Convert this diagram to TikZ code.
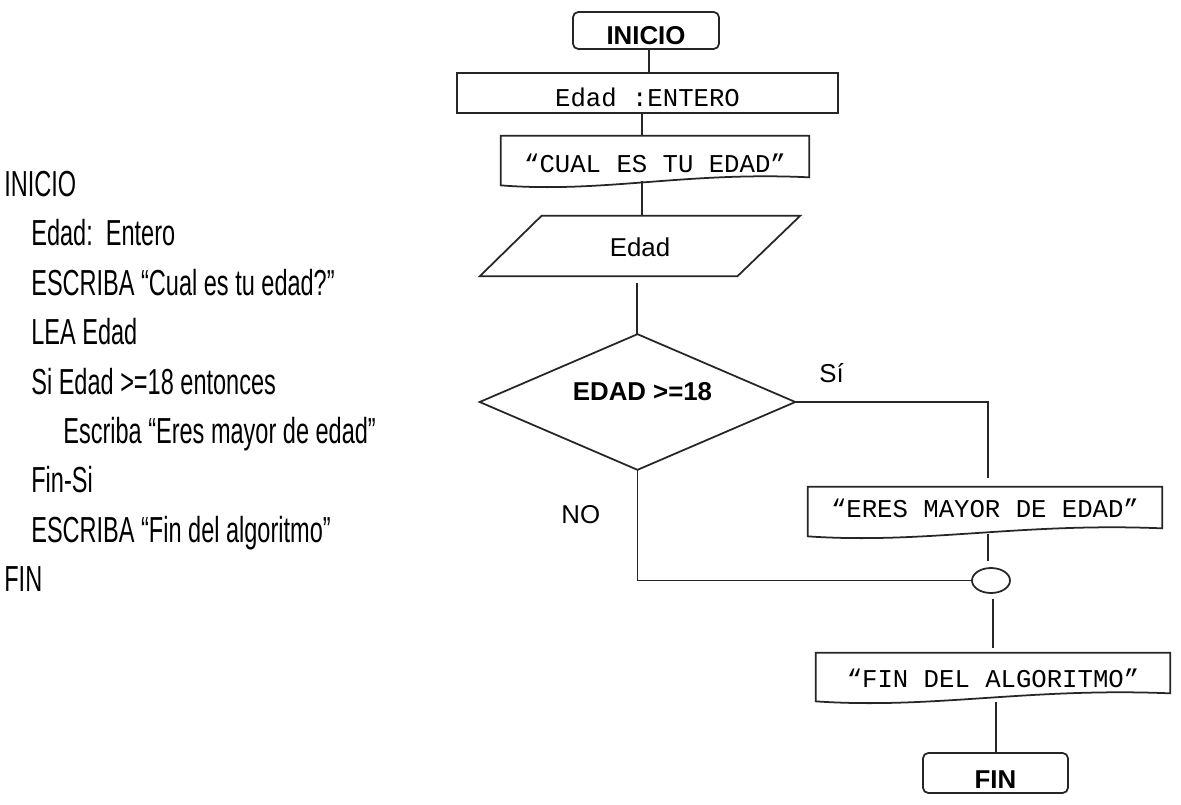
\documentclass[tikz,border=0pt]{standalone}
\usepackage{fontspec}
\setmainfont{Liberation Sans}
\newfontfamily\narrowfont[FakeStretch=0.65]{Liberation Sans}
\newfontfamily\monofont{Liberation Mono}
\usetikzlibrary{shapes.geometric,calc}
\newcommand\drawdoc[1]{%
  \draw[line] ($(#1.south east)+(0,-4)$) -- (#1.north east) -- (#1.north west) -- ($(#1.south west)+(0,4)$)
    .. controls ($(#1.south west)!0.33!(#1.south east)+(0,12)$) and ($(#1.south west)!0.6!(#1.south east)+(0,-10)$)
    .. ($(#1.south east)+(0,-4)$) -- cycle;}
\begin{document}
\begin{tikzpicture}[x=0.02cm,y=-0.02cm,
  line/.style={draw=black!85, line width=1pt},
  flowfont/.style={font=\fontsize{14.7}{17}\selectfont},
  term/.style={rectangle, rounded corners=3pt, line, flowfont, inner sep=0pt, text depth=0pt},
  proc/.style={rectangle, line, font=\monofont\fontsize{14.6}{17}\selectfont, inner sep=0pt, text depth=0pt},
  docn/.style={rectangle, draw=none, font=\monofont\fontsize{14.6}{17}\selectfont, inner sep=0pt, text depth=0pt},
  pseudo/.style={font=\narrowfont\fontsize{20.6}{24}\selectfont, anchor=base west, inner sep=0pt},
  lbl/.style={flowfont, anchor=base west, inner sep=0pt}]
\fill[white] (0,0) rectangle (1181,805);
\useasboundingbox (0,0) rectangle (1181,805);

% pseudocode
\node[pseudo] (p1) at (4,196.5) {INICIO};
\node[pseudo] (p2) at (31,245.9) {Edad:\ \ Entero};
\node[pseudo] (p3) at (31,295.3) {ESCRIBA “Cual es tu edad?”};
\node[pseudo] (p4) at (31,344.7) {LEA Edad};
\node[pseudo] (p5) at (31,394.1) {Si Edad >=18 entonces};
\node[pseudo] (p6) at (63,443.5) {Escriba “Eres mayor de edad”};
\node[pseudo] (p7) at (31,492.9) {Fin-Si};
\node[pseudo] (p8) at (31,542.3) {ESCRIBA “Fin del algoritmo”};
\node[pseudo] (p9) at (4,591.7) {FIN};

% flowchart nodes
\node[term, minimum width=2.92cm, minimum height=0.74cm, text height=0.58cm] (inicio) at (646,30.5) {\bfseries INICIO};
\node[proc, minimum width=7.62cm, minimum height=0.8cm, text height=0.52cm] (edadent) at (647.5,93) {Edad :ENTERO};
\node[docn, minimum width=6.16cm, minimum height=0.9cm, text height=0.54cm] (cual) at (655,158.5) {“CUAL ES TU EDAD”};
\drawdoc{cual}
\node[rectangle, draw=none, flowfont, inner sep=0pt, text depth=0pt, minimum width=6.4cm, minimum height=1.2cm, text height=0.4cm] (lea) at (640,246) {Edad};
\draw[line] (lea.south west) -- ($(lea.north west)+(62,0)$) -- (lea.north east) -- ($(lea.south east)+(-63,0)$) -- cycle;
\node[rectangle, draw=none, inner sep=0pt, minimum width=6.3cm, minimum height=2.7cm] (dec) at (637.5,402) {};
\draw[line] (dec.north) -- (dec.east) -- (dec.south) -- (dec.west) -- cycle;
\node[flowfont, inner sep=0pt] (dectext) at ($(dec)+(5,-10.5)$) {\bfseries EDAD >=18};
\node[docn, minimum width=7.08cm, minimum height=0.9cm, text height=0.3cm] (eres) at (985,509.5) {“ERES MAYOR DE EDAD”};
\drawdoc{eres}
\node[ellipse, line, inner sep=0pt, minimum width=0.76cm, minimum height=0.5cm] (junc) at (991,580.5) {};
\node[docn, minimum width=7.08cm, minimum height=0.88cm, text height=0.48cm] (findel) at (993,675) {“FIN DEL ALGORITMO”};
\drawdoc{findel}
\node[term, minimum width=2.9cm, minimum height=0.8cm, text height=0.6cm] (fin) at (995.5,773) {\bfseries FIN};

% labels
\node[lbl] (si) at (819,382) {Sí};
\node[lbl] (no) at (561,523) {NO};

% connectors
\draw[line] ($(inicio.south)+(3,0)$) -- ($(inicio.south |- edadent.north)+(3,0)$);
\draw[line] ($(edadent.south)+(-5.5,0)$) -- ($(edadent.south |- cual.north)+(-5.5,0)$);
\draw[line] ($(cual.south)+(-13,0)$) -- ($(cual.south |- lea.north)+(-13,0)$);
\draw[line] ($(lea.south)+(-3,7)$) -- ($(lea.south |- dec.north)+(-3,0)$);
\draw[line] (dec.east) -| ($(eres.north)+(3,-9)$);
\draw[line] ($(eres.south)+(3,2)$) -- ($(eres.south |- junc.north)+(3,-6)$);
\draw[line] (dec.south) |- (junc.west);
\draw[line] ($(junc.south)+(2,5)$) -- ($(junc.south |- findel.north)+(2,-5)$);
\draw[line] ($(findel.south)+(3,5)$) -- ($(findel.south |- fin.north)+(3,0)$);
\end{tikzpicture}
\end{document}
